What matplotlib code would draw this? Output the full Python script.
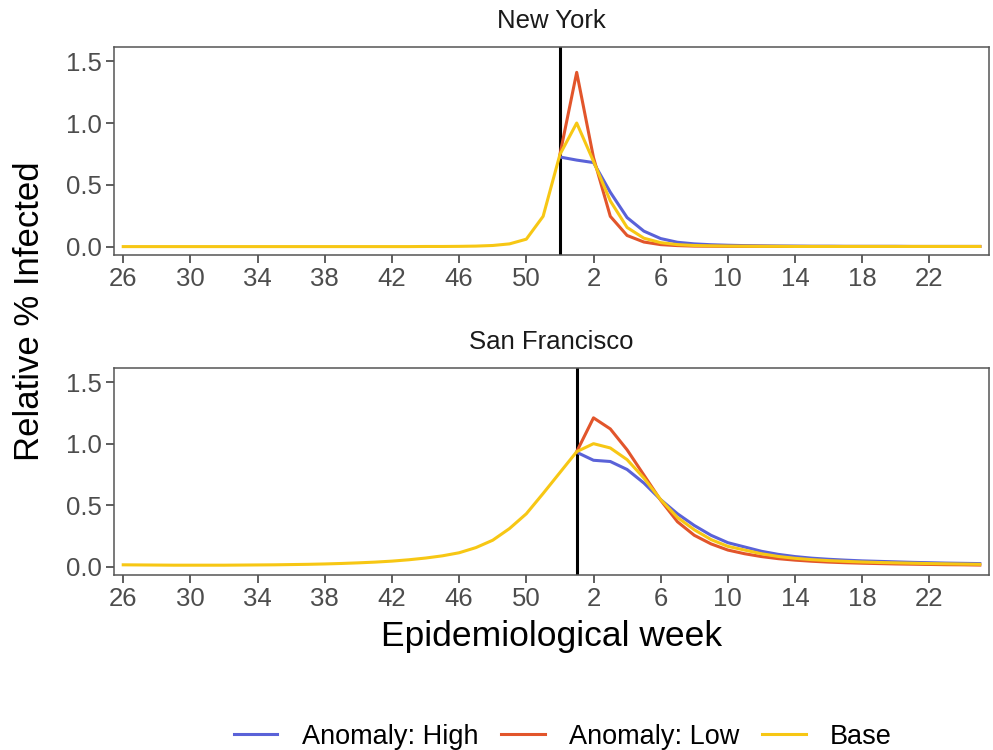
import numpy as np
import matplotlib
matplotlib.use("Agg")
import matplotlib.pyplot as plt
from matplotlib.lines import Line2D

BLUE   = "#5A62D8"
RED    = "#E2552B"
YELLOW = "#F7C714"
TEXT_C = "#000000"
TICK_C = "#4D4D4D"
SPINE_C = "#555555"

# epidemiological weeks, season runs 26 -> 52 then 1 -> 25
weeks = list(range(26, 53)) + list(range(1, 26))
tick_weeks = [26, 30, 34, 38, 42, 46, 50, 2, 6, 10, 14, 18, 22]

# New York
ny_base = [0.0, 0.0, 0.0, 0.0, 0.0, 0.0, 0.0, 0.0, 0.0, 0.0,
           0.0, 0.0, 0.0, 0.0, 0.0, 0.0, 0.0, 0.0, 0.001, 0.001,
           0.002, 0.004, 0.009, 0.022, 0.06, 0.245, 0.745, 1.0, 0.69, 0.37,
           0.155, 0.068, 0.032, 0.016, 0.009, 0.006, 0.004, 0.003, 0.002, 0.002,
           0.001, 0.001, 0.001, 0.001, 0.001, 0.001, 0.001, 0.001, 0.001, 0.001,
           0.001, 0.001]
ny_start = 52
ny_high = [0.725, 0.70, 0.68, 0.44, 0.235, 0.125, 0.065, 0.035, 0.022, 0.015,
           0.011, 0.008, 0.006, 0.005, 0.004, 0.003, 0.003, 0.002, 0.002, 0.002,
           0.002, 0.001, 0.001, 0.001, 0.001, 0.001]
ny_low = [0.745, 1.41, 0.72, 0.245, 0.09, 0.037, 0.016, 0.008, 0.004, 0.003,
          0.002, 0.002, 0.002, 0.001, 0.001, 0.001, 0.001, 0.001, 0.001, 0.001,
          0.001, 0.001, 0.001, 0.001, 0.001, 0.001]

# San Francisco
sf_base = [0.015, 0.014, 0.013, 0.012, 0.012, 0.012, 0.012, 0.013, 0.014, 0.015,
           0.017, 0.019, 0.022, 0.026, 0.031, 0.037, 0.045, 0.056, 0.07, 0.088,
           0.113, 0.155, 0.215, 0.31, 0.43, 0.595, 0.765, 0.935, 1.0, 0.965,
           0.87, 0.72, 0.545, 0.40, 0.30, 0.22, 0.165, 0.135, 0.105, 0.083,
           0.068, 0.057, 0.049, 0.043, 0.038, 0.034, 0.031, 0.028, 0.025, 0.023,
           0.021, 0.019]
sf_start = 1
sf_high = [0.93, 0.865, 0.855, 0.79, 0.68, 0.545, 0.43, 0.335, 0.255, 0.195,
           0.16, 0.125, 0.10, 0.082, 0.069, 0.06, 0.053, 0.047, 0.043, 0.039,
           0.035, 0.032, 0.029, 0.027, 0.025]
sf_low = [0.935, 1.21, 1.12, 0.95, 0.745, 0.54, 0.365, 0.255, 0.185, 0.135,
          0.105, 0.082, 0.065, 0.053, 0.044, 0.037, 0.032, 0.028, 0.025, 0.022,
          0.02, 0.018, 0.016, 0.015, 0.013]

plt.rcParams.update({
    "font.family": ["Liberation Sans", "DejaVu Sans"],
    "axes.edgecolor": SPINE_C,
    "axes.linewidth": 1.1,
})

fig = plt.figure(figsize=(9.93, 7.5), dpi=100)
ax1 = fig.add_axes([0.1148, 0.660, 0.8812, 0.2773])
ax2 = fig.add_axes([0.1148, 0.2333, 0.8812, 0.2760])

x_all = np.arange(len(weeks))
tick_pos = [weeks.index(w) for w in tick_weeks]


def draw_panel(ax, title, base, start, high, low):
    i0 = weeks.index(start)
    xs = x_all[i0:i0 + len(high)]
    ax.axvline(i0, color="black", linewidth=2.2, zorder=1)
    ax.plot(xs, high, color=BLUE, linewidth=2.2, zorder=2)
    ax.plot(xs, low, color=RED, linewidth=2.2, zorder=2)
    ax.plot(x_all, base, color=YELLOW, linewidth=2.2, zorder=3)

    ax.set_xlim(-0.55, 51.55)
    ax.set_ylim(-0.068, 1.615)
    ax.set_yticks([0.0, 0.5, 1.0, 1.5])
    ax.set_yticklabels(["0.0", "0.5", "1.0", "1.5"])
    ax.set_xticks(tick_pos)
    ax.set_xticklabels([str(w) for w in tick_weeks])
    ax.tick_params(axis="both", length=6, width=1.1, color="#333333",
                   labelcolor=TICK_C, labelsize=18.5, pad=2.5)
    ax.annotate(title, xy=(0.5, 1.0), xycoords="axes fraction",
                xytext=(0, 19), textcoords="offset points",
                ha="center", va="center", fontsize=18.5, color="#1a1a1a")


draw_panel(ax1, "New York", ny_base, ny_start, ny_high, ny_low)
draw_panel(ax2, "San Francisco", sf_base, sf_start, sf_high, sf_low)

fig.text(0.030, 0.585, "Relative % Infected", rotation=90,
         ha="center", va="center", fontsize=25, color=TEXT_C)
fig.text(551.5 / 993, 0.151, "Epidemiological week",
         ha="center", va="center", fontsize=25.5, color=TEXT_C)

handles = [Line2D([], [], color=BLUE, linewidth=2.2),
           Line2D([], [], color=RED, linewidth=2.2),
           Line2D([], [], color=YELLOW, linewidth=2.2)]
fig.legend(handles, ["Anomaly: High", "Anomaly: Low", "Base"],
           loc="center", bbox_to_anchor=(563 / 993, 0.018), ncol=3,
           frameon=False, fontsize=19.5, handlelength=1.6,
           handletextpad=0.9, columnspacing=0.85)

fig.savefig("out.png", dpi=100, facecolor="white")
